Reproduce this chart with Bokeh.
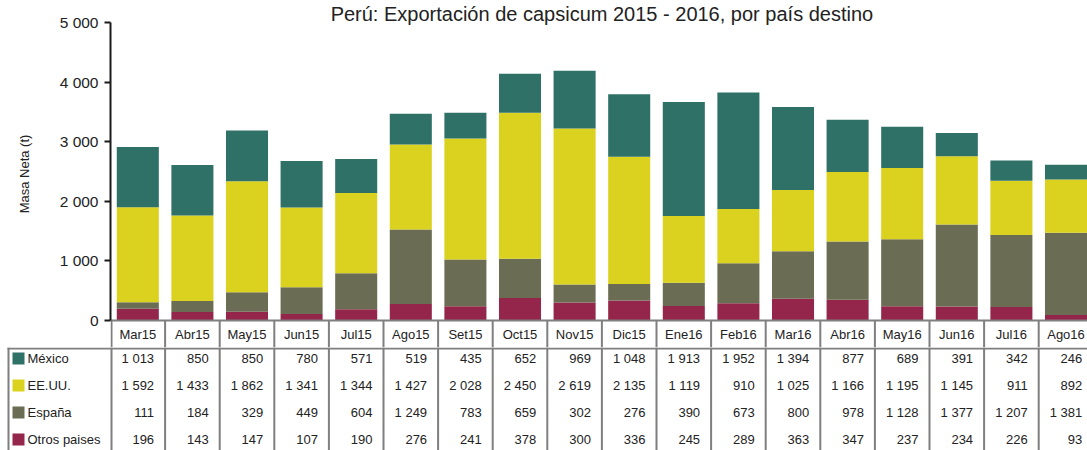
from bokeh.plotting import figure
from bokeh.models import Range1d, FixedTicker, Label, ColumnDataSource
from bokeh.embed import file_html
from bokeh.resources import INLINE
from bokeh.core.properties import value

# ---------------- data ----------------
months = ["Mar15", "Abr15", "May15", "Jun15", "Jul15", "Ago15", "Set15", "Oct15", "Nov15",
          "Dic15", "Ene16", "Feb16", "Mar16", "Abr16", "May16", "Jun16", "Jul16", "Ago16"]
series_names = ["México", "EE.UU.", "España", "Otros paises"]
mexico = [1013, 850, 850, 780, 571, 519, 435, 652, 969, 1048, 1913, 1952, 1394, 877, 689, 391, 342, 246]
eeuu = [1592, 1433, 1862, 1341, 1344, 1427, 2028, 2450, 2619, 2135, 1119, 910, 1025, 1166, 1195, 1145, 911, 892]
espana = [111, 184, 329, 449, 604, 1249, 783, 659, 302, 276, 390, 673, 800, 978, 1128, 1377, 1207, 1381]
otros = [196, 143, 147, 107, 190, 276, 241, 378, 300, 336, 245, 289, 363, 347, 237, 234, 226, 93]
y_ticks = [0, 1000, 2000, 3000, 4000, 5000]
title_text = "Perú: Exportación de capsicum 2015 - 2016, por país destino"
y_label = "Masa Neta (t)"

# ---------------- style / layout ----------------
colors = ["#2F7067", "#DAD21E", "#6B6C54", "#93264A"]
FONT = "Liberation Sans"
TXT = "#222222"
GRID = "#7F7F7F"
W = 1087
LEFT = 110
PITCH = 54.6
TOP_PAD = 22
ZERO_PX = 298
HDR_PX = 27
TOP_H = TOP_PAD + ZERO_PX + HDR_PX
BOT_H = 450 - TOP_H
ROW0 = 11
ROW_PX = 27
n = len(months)
ymax = y_ticks[-1]
upp = ymax / ZERO_PX
y0 = -HDR_PX * upp
y1 = ymax + TOP_PAD * upp
xend = (W - LEFT) / PITCH
px = 1.0 / PITCH

def fmt(v):
    return f"{v:,}".replace(",", " ")

# ---------------- top figure: chart + header row ----------------
p = figure(width=W, height=TOP_H, x_range=Range1d(0, xend), y_range=Range1d(y0, y1),
           output_backend="svg", toolbar_location=None, x_axis_type=None,
           min_border_left=LEFT, min_border_right=0, min_border_top=0, min_border_bottom=0)
p.outline_line_color = None
p.grid.visible = False

src = ColumnDataSource(dict(x=[i + 0.5 for i in range(n)], month=months,
                            mexico=mexico, eeuu=eeuu, espana=espana, otros=otros))
p.vbar_stack(["otros", "espana", "eeuu", "mexico"], x="x", width=0.77,
             color=[colors[3], colors[2], colors[1], colors[0]], line_color=None, source=src)

# header grid
vx = [i + (px if i == 0 else 0) for i in range(n + 1)]
p.segment(x0=vx, y0=[y0] * (n + 1), x1=vx, y1=[0] * (n + 1), line_color=GRID, line_width=2)
p.segment(x0=[0], y0=[0], x1=[n], y1=[0], line_color=GRID, line_width=2)
p.text(x="x", y=y0 / 2, text="month", source=src, text_align="center", text_baseline="middle",
       text_font=value(FONT), text_font_size="13px", text_color=TXT)

yax = p.yaxis[0]
yax.ticker = FixedTicker(ticks=y_ticks)
yax.major_label_overrides = {t: fmt(t) for t in y_ticks}
yax.bounds = (0, ymax)
yax.axis_line_color = "#1a1a1a"
yax.axis_line_width = 2
yax.major_tick_line_color = "#1a1a1a"
yax.major_tick_line_width = 2
yax.major_tick_out = 6
yax.major_tick_in = 0
yax.minor_tick_out = 0
yax.minor_tick_in = 0
yax.major_label_standoff = 6
yax.major_label_text_font = FONT
yax.major_label_text_font_size = "15.5px"
yax.major_label_text_color = TXT
yax.axis_label = y_label
yax.axis_label_text_font = FONT
yax.axis_label_text_font_size = "13px"
yax.axis_label_text_font_style = "normal"
yax.axis_label_text_color = TXT
yax.axis_label_standoff = 25

p.add_layout(Label(x=9, y=ymax + 9 * upp, text=title_text, text_align="center",
                   text_baseline="middle", text_font=FONT, text_font_size="20px",
                   text_color=TXT))

# ---------------- bottom figure: data table ----------------
xs = -LEFT / PITCH
b = figure(width=W, height=BOT_H, x_range=Range1d(xs, xend), y_range=Range1d(BOT_H, 0),
           output_backend="svg", toolbar_location=None, x_axis_type=None, y_axis_type=None,
           min_border=0)
b.outline_line_color = None
b.grid.visible = False

bx = [xs + 8 * px] + [i + (px if i == 0 else 0) for i in range(n + 1)]
b.segment(x0=bx, y0=[0] * len(bx), x1=bx, y1=[BOT_H] * len(bx), line_color=GRID, line_width=2)
b.segment(x0=[xs + 7 * px], y0=[1], x1=[n], y1=[1], line_color=GRID, line_width=2)

all_series = [mexico, eeuu, espana, otros]
row_y = [ROW0 + k * ROW_PX for k in range(len(series_names))]
leg = ColumnDataSource(dict(name=series_names, y=row_y, color=colors))
b.scatter(x=xs + 18 * px, y="y", marker="square", size=12, fill_color="color",
          line_color=None, source=leg)
b.text(x=xs + 27 * px, y="y", text="name", source=leg, text_align="left", text_baseline="middle",
       text_font=value(FONT), text_font_size="13px", text_color=TXT)

for k, vals in enumerate(all_series):
    b.text(x=[i + 1 for i in range(n)], y=[row_y[k]] * n, text=[fmt(v) for v in vals],
           x_offset=-11, text_align="right", text_baseline="middle",
           text_font=value(FONT), text_font_size="13px", text_color=TXT)

open("out.html", "w").write(file_html([p, b], INLINE))
